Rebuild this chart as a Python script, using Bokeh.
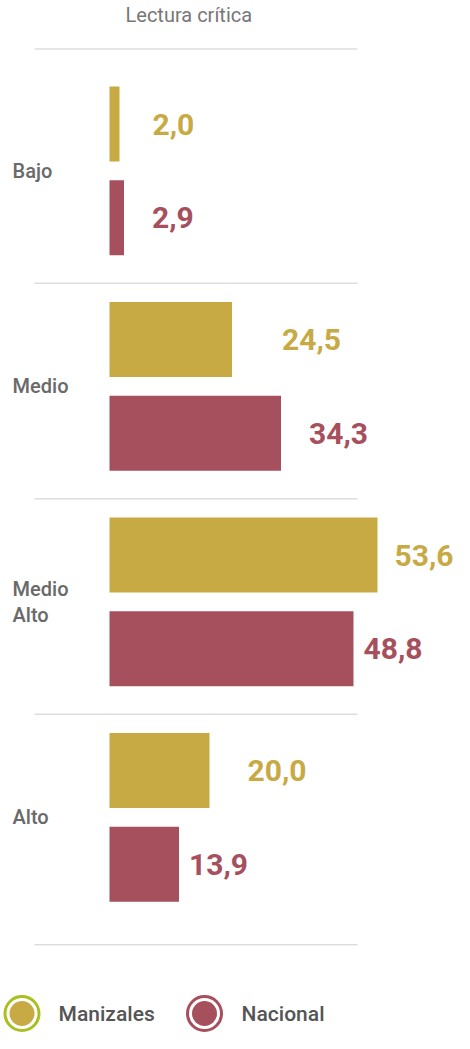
from bokeh.plotting import figure
from bokeh.models import Range1d, ColumnDataSource, Title
from bokeh.embed import file_html
from bokeh.resources import INLINE
from bokeh.core.properties import value
import numpy as np

# ---------------- data ----------------
title_text = "Lectura crítica"
categories = ["Bajo", "Medio", "Medio Alto", "Alto"]
category_labels = ["Bajo", "Medio", "Medio\nAlto", "Alto"]
series = ["Manizales", "Nacional"]
manizales = [2.0, 24.5, 53.6, 20.0]
nacional = [2.9, 34.3, 48.8, 13.9]

# ---------------- style ----------------
bar_colors = {"Manizales": "#C8AA45", "Nacional": "#A6505E"}
ring_colors = {"Manizales": "#A9C01E", "Nacional": "#A6505E"}
label_dx = [33, 28, 50, 28, 17, 10, 38, 10]   # px nudges of value labels
FONT = "Roboto"
FONT_MED = "Roboto Medium"
W, H = 454, 1033
PX_PER_UNIT_X = 5.0
X0_PX = 109            # pixel position of value 0 inside the figure
U = 93.7               # px per bar slot (vertical)
TITLE_PX = 26          # height of the title panel
FIRST_BAR_PX = 123.5   # centre of first bar, px from figure top
GROUP_STEP, BAR_STEP, BAR_H = 2.3, 1.0, 0.8


def px_x(px):
    return (px - X0_PX) / PX_PER_UNIT_X


def px_y(py):
    return -(py - FIRST_BAR_PX) / U


values = [manizales, nacional]
rows = {"y": [], "value": [], "color": [], "label": [], "dx": []}
k = 0
for gi, cat in enumerate(categories):
    for si, s in enumerate(series):
        v = values[si][gi]
        rows["y"].append(-(gi * GROUP_STEP + si * BAR_STEP))
        rows["value"].append(v)
        rows["color"].append(bar_colors[s])
        rows["label"].append(f"{v:.1f}".replace(".", ","))
        rows["dx"].append(label_dx[k])
        k += 1
src = ColumnDataSource(rows)

p = figure(width=W, height=H, output_backend="svg", toolbar_location=None,
           x_range=Range1d(px_x(0), px_x(W)), y_range=Range1d(px_y(H), px_y(TITLE_PX)),
           x_axis_location=None, y_axis_location=None, min_border=0)
p.title = Title(text=title_text, align="left", offset=125, standoff=0,
                text_font=FONT, text_font_size="20px", text_font_style="normal",
                text_color="#777777")
p.outline_line_color = None
p.xgrid.visible = False
p.ygrid.visible = False
p.background_fill_color = "white"
p.border_fill_color = "white"

# separators
ys = np.array(rows["y"])
n_groups = len(categories)
man_y = ys[0::2]
nac_y = ys[1::2]
sep_y = [man_y[0] + 0.8]
for gi in range(n_groups - 1):
    sep_y.append((nac_y[gi] + man_y[gi + 1]) / 2 - 0.05)
sep_y.append(nac_y[-1] - 0.86)
p.segment(x0=px_x(34), x1=px_x(357), y0=sep_y, y1=sep_y, line_color="#DDDDDD", line_width=1.5)

# bars
p.hbar(y="y", left=0, right="value", height=BAR_H, fill_color="color",
       line_color=None, source=src)

# value labels
p.text(x="value", y="y", text="label", x_offset="dx", source=src,
       text_font=value(FONT), text_font_style="bold", text_font_size="30px",
       text_color="color", text_baseline="middle", text_align="left")

# category labels
grp_y = (man_y + nac_y) / 2
p.text(x=[px_x(12)] * n_groups, y=list(grp_y), text=category_labels,
       text_font=value(FONT_MED), text_font_style="normal", text_font_size="20px",
       text_color="#6A6A6A", text_baseline="middle", text_align="left",
       text_line_height=1.1)

# legend (drawn)
leg_y = px_y(1013)
leg_cx = [px_x(21.5), px_x(204)]
leg_tx = [px_x(58), px_x(241)]
p.scatter(x=leg_cx, y=[leg_y] * 2, size=34, fill_color="white",
          line_color=[ring_colors[s] for s in series], line_width=3)
p.scatter(x=leg_cx, y=[leg_y] * 2, size=25, fill_color=[bar_colors[s] for s in series],
          line_color=None)
p.text(x=leg_tx, y=[leg_y] * 2, text=series, text_font=value(FONT_MED),
       text_font_size="21px", text_color="#555555", text_baseline="middle",
       text_align="left")

open("out.html", "w").write(file_html(p, INLINE))
